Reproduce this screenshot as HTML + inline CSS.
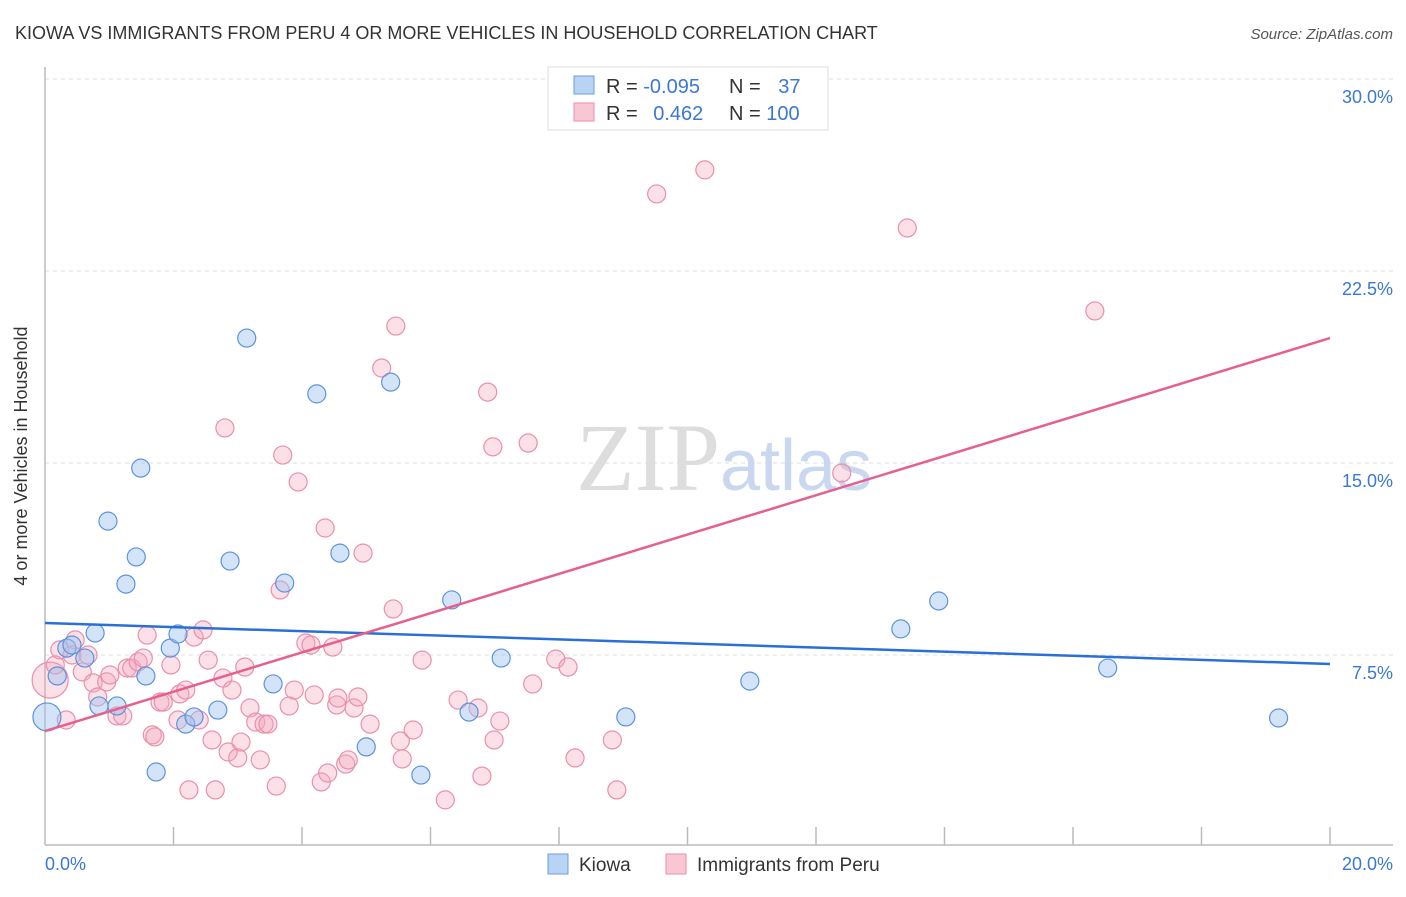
<!DOCTYPE html>
<html><head><meta charset="utf-8"><style>
body{margin:0;background:#fff;font-family:"Liberation Sans",sans-serif;}
svg text{font-family:"Liberation Sans",sans-serif;}
</style></head><body>
<svg width="1406" height="892" xmlns="http://www.w3.org/2000/svg">
<text x="15" y="39" font-size="18" fill="#333">KIOWA VS IMMIGRANTS FROM PERU 4 OR MORE VEHICLES IN HOUSEHOLD CORRELATION CHART</text>
<text x="1393" y="39" font-size="15" fill="#555" text-anchor="end" font-style="italic">Source: ZipAtlas.com</text>
<g id="grid"></g>
<text x="720" y="490" font-size="96" fill="#ddd" text-anchor="end" font-family="Liberation Serif" style="font-family:'Liberation Serif',serif">ZIP</text>
<text x="720" y="490" font-size="72" fill="#c9d8ef">atlas</text>
<g id="axes"></g>
<g id="pts"></g>
<g id="lines"></g>
<text x="27" y="456" font-size="18" fill="#333" text-anchor="middle" transform="rotate(-90 27 456)">4 or more Vehicles in Household</text>
<g>
<rect x="548" y="67" width="280" height="63" fill="#fff" stroke="#ddd"/>
<rect x="574" y="76" width="20" height="18" fill="#b9d3f5" stroke="#6b9be0"/>
<rect x="574" y="103" width="20" height="18" fill="#f9c6d4" stroke="#ea8fac"/>
<text x="606" y="93" font-size="20" fill="#333">R = <tspan fill="#3a78d4">-0.095</tspan></text>
<text x="729" y="93" font-size="20" fill="#333">N = <tspan fill="#3a78d4" dx="12">37</tspan></text>
<text x="606" y="120" font-size="20" fill="#333">R = <tspan fill="#3a78d4" dx="10">0.462</tspan></text>
<text x="729" y="120" font-size="20" fill="#333">N = <tspan fill="#3a78d4">100</tspan></text>
</g>
<g>
<rect x="548" y="854" width="20" height="20" fill="#b9d3f5" stroke="#6b9be0"/>
<text x="579" y="871" font-size="19" fill="#333">Kiowa</text>
<rect x="666" y="854" width="20" height="20" fill="#f9c6d4" stroke="#ea8fac"/>
<text x="697" y="871" font-size="19" fill="#333">Immigrants from Peru</text>
</g>
</svg>
<script>
const yTicks=[7.5,15,22.5,30];
const yTickLabels=["7.5%","15.0%","22.5%","30.0%"];
const xTicks=[2,4,6,8,10,12,14,16,18,20];
const xLabels=["0.0%","20.0%"];
const kiowaX=[0.03,0.19,0.34,0.42,0.62,0.78,0.84,0.98,1.12,1.26,1.42,1.49,1.57,1.73,1.95,2.07,2.19,2.32,2.69,2.88,3.14,3.55,3.73,4.23,4.59,5.00,5.38,5.85,6.33,6.60,7.10,9.04,10.97,13.32,13.91,16.54,19.20];
const kiowaY=[5.08,6.68,7.77,7.89,7.38,8.36,5.51,12.73,5.51,10.27,11.33,14.80,6.68,2.93,7.77,8.32,4.80,5.08,5.35,11.17,19.88,6.37,10.31,17.70,11.48,3.91,18.16,2.81,9.65,5.27,7.38,5.08,6.48,8.52,9.61,6.99,5.04];
const peruX=[0.08,0.16,0.23,0.33,0.42,0.47,0.58,0.67,0.75,0.82,0.96,1.01,1.12,1.21,1.28,1.35,1.45,1.53,1.59,1.67,1.71,1.79,1.84,1.96,2.07,2.10,2.19,2.24,2.32,2.40,2.46,2.54,2.60,2.65,2.77,2.80,2.85,2.91,3.00,3.05,3.11,3.19,3.28,3.35,3.41,3.47,3.60,3.66,3.70,3.80,3.88,3.94,4.06,4.14,4.19,4.30,4.36,4.40,4.48,4.54,4.56,4.68,4.72,4.81,4.87,4.95,5.06,5.24,5.42,5.46,5.53,5.56,5.73,5.87,6.23,6.43,6.74,6.80,6.89,6.97,6.99,7.08,7.52,7.59,7.95,8.14,8.25,8.83,8.90,9.52,10.27,12.40,13.42,16.34];
const peruY=[6.52,7.11,7.70,4.96,7.50,8.09,6.84,7.50,6.41,5.86,6.45,6.72,5.12,5.12,6.99,6.99,7.23,7.38,8.28,4.38,4.30,5.66,5.66,7.11,4.96,5.98,6.13,2.23,8.20,4.96,8.48,7.30,4.18,2.23,6.60,16.37,3.71,6.13,3.48,4.10,7.03,5.43,4.88,3.40,4.80,4.80,2.38,10.04,15.31,5.51,6.13,14.26,7.97,7.89,5.94,2.54,12.46,2.89,7.81,5.55,5.82,3.24,3.40,5.43,5.86,11.48,4.80,18.71,9.30,20.35,4.14,3.44,4.57,7.30,1.84,5.74,5.43,2.77,17.77,15.63,4.18,4.92,15.78,6.37,7.34,7.03,3.48,4.18,2.23,25.51,26.45,14.61,24.18,20.94];
const kiowaTrend=[8.75,7.15];
const peruTrend=[4.53,19.88];
const NS="http://www.w3.org/2000/svg";
const sx=v=>45+v/20*1285;
const sy=v=>847-v/7.5*192;
function mk(tag,attrs,parent){const e=document.createElementNS(NS,tag);for(const k in attrs)e.setAttribute(k,attrs[k]);document.getElementById(parent).appendChild(e);return e;}
// grid
yTicks.forEach((t,i)=>{
 const l=mk('line',{x1:45,x2:1393,y1:sy(t),y2:sy(t),stroke:'#ddd','stroke-dasharray':'4,4'},'grid');
 
 
 const tx=mk('text',{x:1393,y:sy(t)+24,'font-size':18,fill:'#3a78d4','text-anchor':'end'},'grid');
 tx.textContent=yTickLabels[i];
 
 
});
mk('line',{x1:45,x2:45,y1:67,y2:845,stroke:'#bbb','stroke-width':1.5},'axes');
mk('line',{x1:45,x2:1393,y1:845,y2:845,stroke:'#bbb','stroke-width':1.5},'axes');
xTicks.forEach(t=>{
 const l=mk('line',{x1:sx(t),x2:sx(t),y1:827,y2:845,stroke:'#bbb','stroke-width':1.5},'axes');
 
 
});
[[45,'start',0],[1393,'end',1]].forEach(([x,a,i])=>{
 const tx=mk('text',{x:x,y:870,'font-size':18,fill:'#3a78d4','text-anchor':a},'axes');
 tx.textContent=xLabels[i];
 
 
});
peruX.forEach((x,i)=>{
 const c=mk('circle',{cx:sx(x),cy:sy(peruY[i]),r:i==0?18:9,fill:'rgba(244,165,188,0.35)',stroke:'#ea8fac','stroke-width':1.2},'pts');
 
 
});
kiowaX.forEach((x,i)=>{
 const c=mk('circle',{cx:sx(x),cy:sy(kiowaY[i]),r:i==0?14:9,fill:'rgba(160,195,240,0.45)',stroke:'#5b93dd','stroke-width':1.2},'pts');
 
 
});
const lb=mk('line',{x1:sx(0),x2:sx(20),y1:sy(kiowaTrend[0]),y2:sy(kiowaTrend[1]),stroke:'#2a6fd6','stroke-width':2.5},'lines');


const lp=mk('line',{x1:sx(0),x2:sx(20),y1:sy(peruTrend[0]),y2:sy(peruTrend[1]),stroke:'#e5608c','stroke-width':2.5},'lines');


</script>
</body></html>
